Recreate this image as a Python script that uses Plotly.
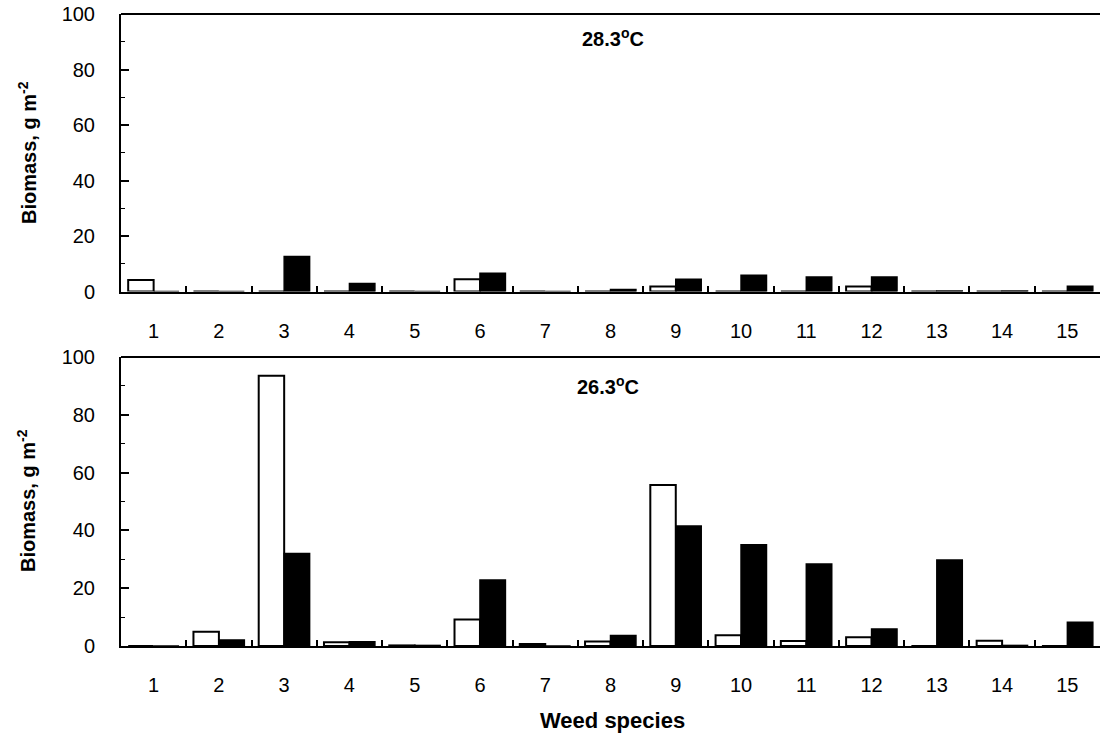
import plotly.graph_objects as go

species = [str(i) for i in range(1, 16)]
# 28.3 °C panel
top_open = [4.1, 0, 0, 0, 0, 4.4, 0, 0, 1.8, 0, 0, 1.8, 0, 0, 0]
top_filled = [0, 0, 12.6, 2.9, 0, 6.6, 0, 0.7, 4.4, 5.9, 5.2, 5.2, 0.2, 0.2, 1.9]
# 26.3 °C panel
bot_open = [0, 4.9, 93.5, 1.3, 0.2, 9.2, 0.7, 1.6, 55.7, 3.7, 1.7, 3.0, 0, 1.8, 0]
bot_filled = [0, 2.1, 32.0, 1.5, 0.2, 22.8, 0, 3.6, 41.5, 35.0, 28.4, 5.9, 29.8, 0.2, 8.2]
y_ticks = [0, 20, 40, 60, 80, 100]
panel_labels = ["28.3<sup>o</sup>C", "26.3<sup>o</sup>C"]

FONT = "Arial, Liberation Sans, sans-serif"
W, H = 1100, 735

fig = go.Figure()
for xa, ya, op, fi in [("x", "y", top_open, top_filled), ("x2", "y2", bot_open, bot_filled)]:
    fig.add_trace(go.Bar(x=species, y=op, xaxis=xa, yaxis=ya, showlegend=False,
                         marker=dict(color="white", line=dict(color="black", width=2))))
    fig.add_trace(go.Bar(x=species, y=fi, xaxis=xa, yaxis=ya, showlegend=False,
                         marker=dict(color="black", line=dict(color="black", width=1.5))))

def pf(px):
    return 1 - px / H

xcommon = dict(type="category", showline=True, linecolor="black", linewidth=2,
               ticks="inside", tickson="boundaries", ticklen=6, tickcolor="black", tickwidth=1.5,
               tickfont=dict(family=FONT, size=20, color="black"), ticklabelstandoff=20,
               showgrid=False, zeroline=False, domain=[0, 1], automargin=False)
ycommon = dict(range=[0, 100], tickvals=y_ticks, showline=True, linecolor="black", linewidth=2,
               ticks="inside", ticklen=8, tickcolor="black", tickwidth=1.5,
               minor=dict(dtick=10, ticks="inside", ticklen=4, tickcolor="black", tickwidth=1),
               tickfont=dict(family=FONT, size=20, color="black"), ticklabelstandoff=20,
               showgrid=False, zeroline=False, automargin=False)

fig.update_layout(
    width=W, height=H,
    margin=dict(l=121, r=0, t=0, b=0, autoexpand=False),
    paper_bgcolor="white", plot_bgcolor="white",
    barmode="group", bargap=0.22, bargroupgap=0,
    xaxis=dict(anchor="y", **xcommon),
    xaxis2=dict(anchor="y2", **xcommon),
    yaxis=dict(anchor="x", domain=[pf(291.5), pf(14)], **ycommon),
    yaxis2=dict(anchor="x2", domain=[pf(646), pf(357)], **ycommon),
    shapes=[
        dict(type="line", xref="x domain", yref="y domain", x0=0, x1=1, y0=1, y1=1,
             line=dict(color="black", width=2)),
        dict(type="line", xref="x2 domain", yref="y2 domain", x0=0, x1=1, y0=1, y1=1,
             line=dict(color="black", width=2)),
    ],
)

pw = W - 121
def xp(px):
    return (px - 121) / pw

ann = []
for lbl, cx, cy in [(panel_labels[0], 613, 38), (panel_labels[1], 608, 385)]:
    ann.append(dict(text="<b>" + lbl + "</b>", xref="paper", yref="paper", x=xp(cx), y=pf(cy),
                    showarrow=False, font=dict(family=FONT, size=20, color="black"),
                    xanchor="center", yanchor="middle"))
for cy in [153, 501]:
    ann.append(dict(text="<b>Biomass, g m<sup>-2</sup></b>", xref="paper", yref="paper",
                    x=xp(27), y=pf(cy), textangle=-90, showarrow=False,
                    font=dict(family=FONT, size=20, color="black"),
                    xanchor="center", yanchor="middle"))
ann.append(dict(text="<b>Weed species</b>", xref="paper", yref="paper", x=xp(612), y=pf(720),
                showarrow=False, font=dict(family=FONT, size=22, color="black"),
                xanchor="center", yanchor="middle"))
fig.update_layout(annotations=ann)

fig.write_html("out.html", config={"displayModeBar": False},
               post_script="document.body.style.margin='0';document.body.style.overflow='hidden';")
